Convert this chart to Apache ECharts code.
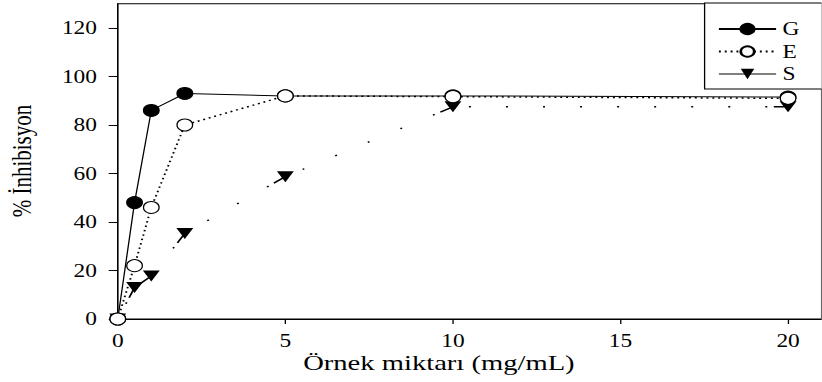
<!DOCTYPE html>
<html><head><meta charset="utf-8">
<script src="https://cdn.jsdelivr.net/npm/echarts@6/dist/echarts.min.js"></script>
<style>
html,body{margin:0;padding:0;background:#fff;overflow:hidden;}
#wrap{width:822px;height:382px;overflow:hidden;position:relative;}
#c{width:632.31px;height:382px;transform:scaleX(1.3);transform-origin:0 0;}
</style></head>
<body><div id="wrap"><div id="c"></div></div>
<script>
// ---- data ----
const xValues = [0, 0.5, 1, 2, 5, 10, 20];
const seriesG = [0, 48, 86, 93, 92, 92, 91.5];
const seriesE = [0, 22, 46, 80, 92, 91.7, 91];
const seriesS = [0, 13, 17.7, 35.3, 58.7, 87.5, 87.5];
const seriesNames = ['G', 'E', 'S'];
const xTicks = [0, 5, 10, 15, 20];
const yTicks = [0, 20, 40, 60, 80, 100, 120];
const xTitle = 'Örnek miktarı (mg/mL)';
const yTitle = '% İnhibisyon';

const FONT = 'Liberation Serif';
const pts = ys => xValues.map((x, i) => [x, ys[i]]);

// S line: SigmaPlot-like sparse pattern, drawn per segment from its end point
const sDash = [11, 5];
for (let k = 0; k < 12; k++) sDash.push(1.5, 27);
const sSegments = [];
for (let i = 1; i < xValues.length; i++) {
  sSegments.push({
    type: 'line', name: 'S-seg' + i, silent: true, symbol: 'none', z: 1,
    data: [[xValues[i], seriesS[i]], [xValues[i - 1], seriesS[i - 1]]],
    lineStyle: { color: '#000', width: 1.4, type: sDash, cap: 'butt' },
    itemStyle: { color: '#000' }
  });
}

const chart = echarts.init(document.getElementById('c'), null, { renderer: 'svg' });
chart.setOption({
  animation: false,
  backgroundColor: '#fff',
  grid: { left: 90.6, top: 3.75, bottom: 63, right: -4.9, show: true, borderColor: '#000', borderWidth: 1, backgroundColor: 'transparent' },
  xAxis: {
    type: 'value', min: 0, max: 21, interval: 5,
    axisLine: { show: true, lineStyle: { color: '#000', width: 1 } },
    axisTick: { show: true, inside: false, length: 5, customValues: xTicks, lineStyle: { color: '#000' } },
    axisLabel: { customValues: xTicks, margin: 13, color: '#000', fontFamily: FONT, fontSize: 18 },
    splitLine: { show: false }
  },
  yAxis: {
    type: 'value', min: 0, max: 130, interval: 10,
    axisLine: { show: true, lineStyle: { color: '#000', width: 1 } },
    axisTick: { show: true, inside: false, length: 7, customValues: yTicks, lineStyle: { color: '#000' } },
    axisLabel: { customValues: yTicks, margin: 16, color: '#000', fontFamily: FONT, fontSize: 18 },
    splitLine: { show: false }
  },
  legend: {
    left: 542, top: 3, orient: 'vertical',
    padding: [17, 40, 6, 10],
    itemWidth: 44, itemHeight: 13, itemGap: 4.5,
    borderColor: '#000', borderWidth: 1, backgroundColor: '#fff',
    textStyle: { color: '#000', fontFamily: FONT, fontSize: 18 },
    data: [
      { name: seriesNames[0] },
      { name: seriesNames[1] },
      { name: seriesNames[2], lineStyle: { color: '#000', width: 1, type: 'solid', opacity: 1 } }
    ]
  },
  graphic: [
    { type: 'text', x: 337.6, y: 363, silent: true,
      style: { text: xTitle, font: '22px "Liberation Serif"', fill: '#000', align: 'center', verticalAlign: 'middle', textAlign: 'center', textVerticalAlign: 'middle' } },
    { type: 'text', x: 16.5, y: 161, rotation: Math.PI / 2, silent: true,
      style: { text: yTitle, font: '21px "Liberation Serif"', fill: '#000', align: 'center', verticalAlign: 'middle', textAlign: 'center', textVerticalAlign: 'middle' } }
  ],
  series: [
    { type: 'line', name: seriesNames[0], data: pts(seriesG), z: 2,
      symbol: 'circle', symbolSize: 12,
      itemStyle: { color: '#000', borderColor: '#000', borderWidth: 1 },
      lineStyle: { color: '#000', width: 1 } },
    ...sSegments,
    { type: 'line', name: seriesNames[2], data: pts(seriesS), z: 3,
      symbol: 'triangle', symbolRotate: 180, symbolSize: [13, 11],
      itemStyle: { color: '#000' },
      lineStyle: { color: '#000', width: 1, opacity: 0 } },
    { type: 'line', name: seriesNames[1], data: pts(seriesE), z: 4,
      symbol: 'circle', symbolSize: 12,
      itemStyle: { color: '#fff', borderColor: '#000', borderWidth: 1 },
      lineStyle: { color: '#000', width: 1.5, type: [1.5, 3], cap: 'butt' } }
  ]
});
</script>
</body></html>
